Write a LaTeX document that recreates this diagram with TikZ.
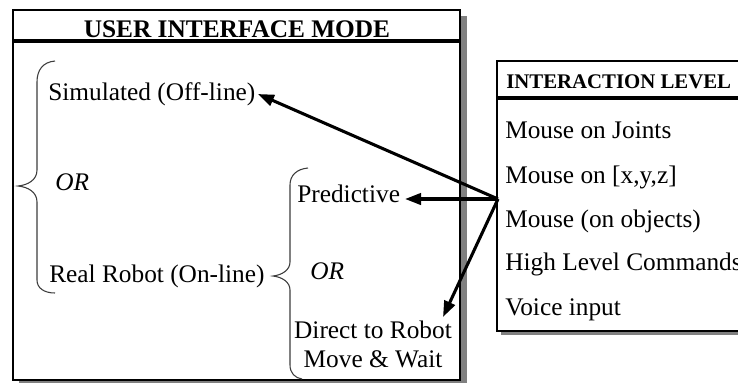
\documentclass[tikz,border=0pt]{standalone}
\usepackage{fontspec}
\setmainfont{Liberation Serif}
\usetikzlibrary{arrows.meta}
\definecolor{shadowgray}{RGB}{128,128,128}
\definecolor{bracegray}{RGB}{60,60,60}
\begin{document}
\begin{tikzpicture}[x=0.75pt,y=-0.75pt,
  txt/.style={inner sep=0pt, anchor=base west, font=\fontsize{19}{22}\selectfont},
  ctxt/.style={inner sep=0pt, anchor=base, font=\fontsize{19}{22}\selectfont},
  ortxt/.style={txt, font=\fontsize{19}{22}\selectfont\itshape},
  titletxt/.style={inner sep=0pt, anchor=base, font=\fontsize{19}{22}\selectfont\bfseries},
  headtxt/.style={inner sep=0pt, anchor=base west, font=\fontsize{15.6}{18}\selectfont\bfseries},
  boxline/.style={line width=1.8pt, draw=black},
  sepline/.style={line width=2.3pt, draw=black},
  bracestyle/.style={line width=0.8pt, draw=bracegray},
  arr/.style={line width=2.3pt, -{Triangle[length=12pt,width=8.5pt]}}
]
\useasboundingbox (0,0) rectangle (738,383);
% left box
\fill[shadowgray] (19,16) rectangle (467,383);
\draw[boxline, fill=white] (13,10) rectangle (460,380);
\draw[sepline] (13,41) -- (460,41);
\node[titletxt] (title) at (237,37) {USER INTERFACE MODE};
% right box
\fill[shadowgray] (501,65) rectangle (738,335);
\fill[white] (497,61) rectangle (738,331);
\draw[boxline] (742,61) -- (497,61) -- (497,331) -- (742,331);
\draw[sepline] (497,98) -- (742,98);
\node[headtxt] (ilevel) at (506,88) {INTERACTION LEVEL};
\node[txt] (joints) at (505,138) {Mouse on Joints};
\node[txt] (xyz) at (505,183) {Mouse on [x,y,z]};
\node[txt] (objects) at (505,227) {Mouse (on objects)};
\node[txt] (high) at (505,270) {High Level Commands};
\node[txt] (voice) at (505,315) {Voice input};
% left texts
\node[txt] (sim) at (48,100) {Simulated (Off-line)};
\node[ortxt] (or1) at (55,190) {OR};
\node[txt] (real) at (49,282) {Real Robot (On-line)};
\node[txt] (pred) at (297,202) {Predictive};
\node[ortxt] (or2) at (310,279) {OR};
\node[ctxt] (direct) at (373,338) {Direct to Robot};
\node[ctxt] (wait) at (373,367) {Move \& Wait};
% braces
\draw[bracestyle] (55,61) .. controls (43,62) and (37,70) .. (37,82) -- (37,170)
  .. controls (37,180) and (28,185) .. (18,186)
  .. controls (28,187) and (37,192) .. (37,202) -- (37,280)
  .. controls (37,288) and (44,293) .. (55,293);
\draw[bracestyle] (308,168) .. controls (297,169) and (290,175) .. (290,185) -- (290,262)
  .. controls (290,270) and (282,275) .. (273,276)
  .. controls (282,277) and (290,282) .. (290,290) -- (290,365)
  .. controls (290,373) and (295,378) .. (302,379);
% arrows
\coordinate (src) at (498,199);
\coordinate (simtip) at (258,94);
\coordinate (predtip) at (405,199);
\coordinate (directtip) at (443,317);
\draw[arr] (src) -- (simtip);
\draw[arr] (src) -- (predtip);
\draw[arr] (src) -- (directtip);
\end{tikzpicture}
\end{document}
